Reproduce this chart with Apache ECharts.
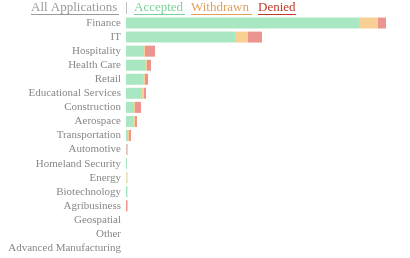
<!DOCTYPE html>
<html><head><meta charset="utf-8">
<script src="https://cdn.jsdelivr.net/npm/echarts@6/dist/echarts.min.js"></script>
<style>html,body{margin:0;padding:0;background:#fff}#c{width:410px;height:258px}</style>
</head><body><div id="c"></div>
<script>
const categories = ["Finance","IT","Hospitality","Health Care","Retail","Educational Services","Construction","Aerospace","Transportation","Automotive","Homeland Security","Energy","Biotechnology","Agribusiness","Geospatial","Other","Advanced Manufacturing"];
const accepted  = [233,109,18,19,17,16,8,7,2,0.5,1,0.5,1.5,0,0,0,0];
const withdrawn = [19,13,1,2,2,2,1,2,1,0,0,1,0,0,0,0,0];
const denied    = [8,14,10,4,3,2,6,2,2,1,0,0,0,1.5,0,0,0];

const FONT = "Liberation Serif";
const chart = echarts.init(document.getElementById('c'));
function hdr(x, txt, color, w) {
  return [
    {type:'text', left:x, top:1, style:{text:txt, fill:color, font:'13px "'+FONT+'"'}},
    {type:'line', shape:{x1:x, y1:14.5, x2:x+w, y2:14.5}, style:{stroke:color, lineWidth:1}}
  ];
}
chart.setOption({
  animation:false,
  grid:{left:126, right:24, top:16, bottom:3},
  xAxis:{type:'value', show:false, max:'dataMax'},
  yAxis:{type:'category', data:categories, inverse:true,
    axisLine:{show:false}, axisTick:{show:false},
    axisLabel:{color:'#888', fontFamily:FONT, fontSize:11, margin:5, interval:0}},
  graphic:[].concat(
    hdr(31,'All Applications','#9a9a9a',88),
    [{type:'text', left:125, top:1, style:{text:'|', fill:'#9a9a9a', font:'13px "'+FONT+'"'}}],
    hdr(134,'Accepted','#7ccf9a',51),
    hdr(191,'Withdrawn','#e0a05c',61),
    hdr(258,'Denied','#c0392b',38)
  ),
  series:[
    {name:'Accepted', type:'bar', stack:'a', data:accepted, barWidth:11, itemStyle:{color:'#a9e7c2'}},
    {name:'Withdrawn', type:'bar', stack:'a', data:withdrawn, barWidth:11, itemStyle:{color:'#f8d094'}},
    {name:'Denied', type:'bar', stack:'a', data:denied, barWidth:11, itemStyle:{color:'#ec9590'}}
  ]
});
</script></body></html>
